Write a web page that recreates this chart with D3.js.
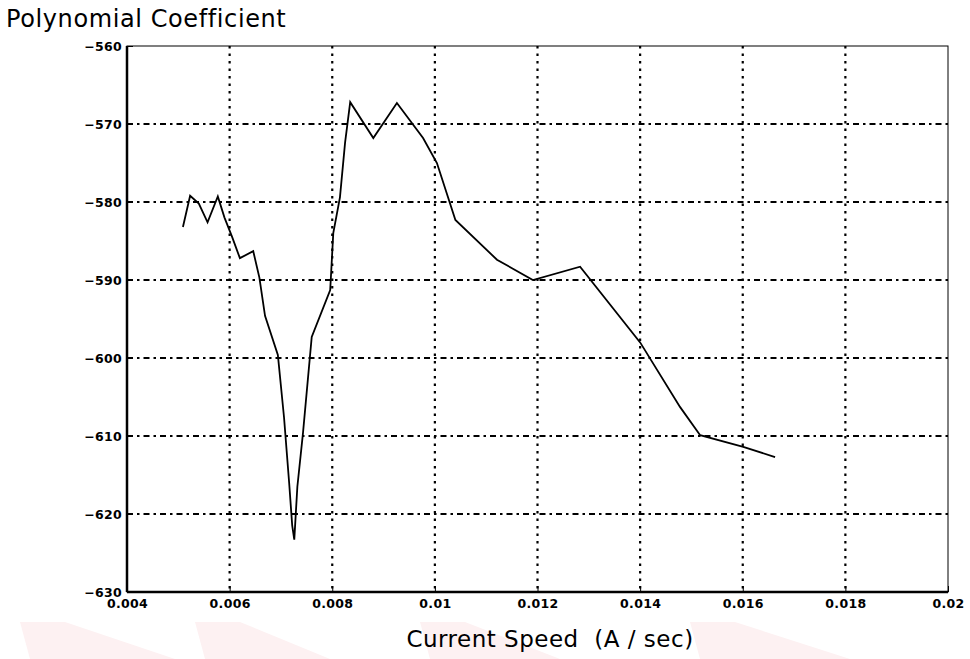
<html>
<head>
<meta charset="utf-8">
<title>Polynomial Coefficient</title>
<script src="https://d3js.org/d3.v7.min.js"></script>
<style>
  body { margin: 0; background: #fff; }
  .tick text { font-family: "DejaVu Sans", sans-serif; font-weight: bold; font-size: 12.5px; letter-spacing: 0.3px; fill: #000; }
</style>
</head>
<body>
<svg width="970" height="659"></svg>
<script>
// current speed (A/sec)
var speed = [0.00509, 0.00523, 0.00540, 0.00557, 0.00577, 0.00590, 0.00605, 0.00620, 0.00646,
  0.00658, 0.00669, 0.00694, 0.00706, 0.00716, 0.00722, 0.00726, 0.00732, 0.00743, 0.00760,
  0.00796, 0.00802, 0.00815, 0.00825, 0.00835, 0.00880, 0.00926, 0.00977, 0.01004, 0.01040,
  0.01121, 0.01191, 0.01283, 0.01400, 0.01478, 0.01517, 0.01601, 0.01663];
// polynomial coefficient
var coef = [-583.2, -579.2, -580.2, -582.6, -579.3, -582.0, -584.5, -587.2, -586.3,
  -589.7, -594.6, -599.6, -607.6, -616.0, -621.5, -623.3, -616.5, -609.6, -597.3,
  -591.3, -584.0, -579.4, -572.4, -567.2, -571.8, -567.3, -571.8, -575.0, -582.3,
  -587.4, -590.0, -588.3, -598.0, -606.3, -609.9, -611.4, -612.7];
var xTicks = [0.004, 0.006, 0.008, 0.01, 0.012, 0.014, 0.016, 0.018, 0.02];
var xTickLabels = ["0.004", "0.006", "0.008", "0.01", "0.012", "0.014", "0.016", "0.018", "0.02"];
var yTicks = [-560, -570, -580, -590, -600, -610, -620, -630];

var pLeft = 127, pRight = 948, pTop = 46, pBottom = 592;
var svg = d3.select("svg");

// faint watermark shapes at the bottom
var marks = [[20, 175], [195, 330], [420, 560], [690, 850]];
svg.selectAll(".wm").data(marks).enter().append("path")
  .attr("class", "wm")
  .attr("d", function(d) { return "M" + d[0] + ",622 L" + (d[0] + 45) + ",622 L" + d[1] + ",659 L" + (d[0] + 10) + ",659 Z"; })
  .attr("fill", "#fdf1f2");

var x = d3.scaleLinear().domain([0.004, 0.02]).range([pLeft, pRight]);
var y = d3.scaleLinear().domain([-630, -560]).range([pBottom, pTop]);

// grid
svg.append("g").selectAll("line").data(xTicks.slice(1, -1)).enter().append("line")
  .attr("x1", function(d) { return x(d); }).attr("x2", function(d) { return x(d); })
  .attr("y1", pTop).attr("y2", pBottom)
  .attr("stroke", "#000").attr("stroke-width", 2.2).attr("stroke-dasharray", "2.5,5");
svg.append("g").selectAll("line").data(yTicks.slice(1, -1)).enter().append("line")
  .attr("x1", pLeft).attr("x2", pRight)
  .attr("y1", function(d) { return y(d); }).attr("y2", function(d) { return y(d); })
  .attr("stroke", "#000").attr("stroke-width", 2.2).attr("stroke-dasharray", "6,4,2.5,4");

// frame
svg.append("rect").attr("x", pLeft).attr("y", pTop).attr("width", pRight - pLeft).attr("height", pBottom - pTop)
  .attr("fill", "none").attr("stroke", "#000").attr("stroke-width", 1);

// axes
var yAxis = svg.append("g").attr("transform", "translate(" + pLeft + ",0)")
  .call(d3.axisRight(y).tickValues(yTicks).tickSize(6).tickFormat(d3.format("d")));
yAxis.selectAll("text").attr("x", -5).style("text-anchor", "end");
yAxis.select(".domain").attr("stroke-width", 2.5).attr("d", "M0," + pTop + "V" + pBottom);

var xAxis = svg.append("g").attr("transform", "translate(0," + pBottom + ")")
  .call(d3.axisTop(x).tickValues(xTicks).tickSize(6).tickFormat(function(d, i) { return xTickLabels[i]; }));
xAxis.selectAll("text").attr("y", 16).attr("dy", "0");
xAxis.select(".domain").attr("stroke-width", 2.5).attr("d", "M" + pLeft + ",0H" + pRight);

// curve
var pts = speed.map(function(s, i) { return [s, coef[i]]; });
svg.append("path").datum(pts)
  .attr("fill", "none").attr("stroke", "#000").attr("stroke-width", 1.8)
  .attr("d", d3.line().x(function(d) { return x(d[0]); }).y(function(d) { return y(d[1]); }));

// titles
svg.append("text").attr("x", 6).attr("y", 27)
  .style("font-family", "'DejaVu Sans', sans-serif").style("font-size", "24px").style("letter-spacing", "0.6px").attr("fill", "#000")
  .text("Polynomial Coefficient");
svg.append("text").attr("x", 550).attr("y", 647).style("text-anchor", "middle")
  .style("font-family", "'DejaVu Sans', sans-serif").style("font-size", "23px").style("letter-spacing", "0.5px").attr("fill", "#000")
  .attr("xml:space", "preserve")
  .text("Current Speed  (A / sec)");
</script>
</body>
</html>
